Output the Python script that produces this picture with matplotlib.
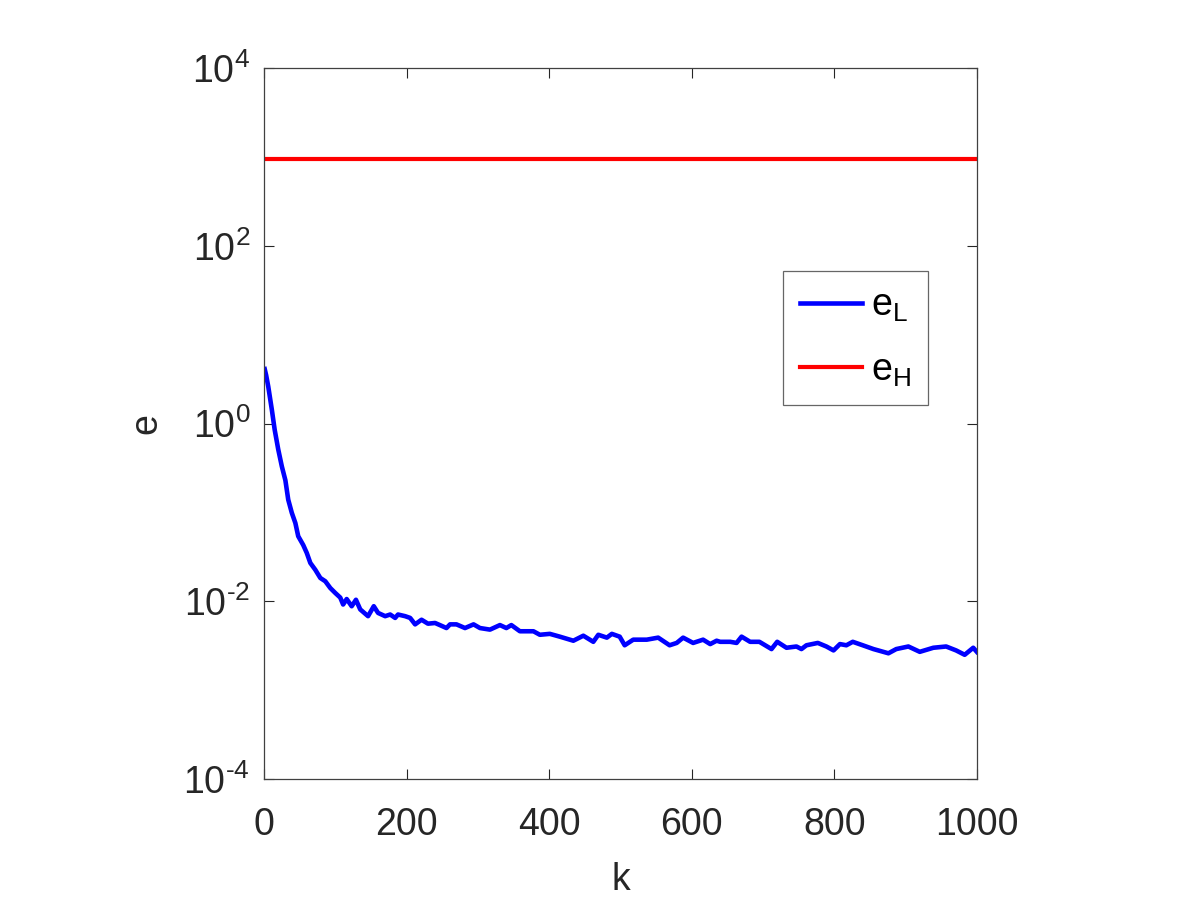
import matplotlib
matplotlib.use("Agg")
import matplotlib.pyplot as plt
import numpy as np

plt.rcParams['font.family'] = ['Liberation Sans', 'DejaVu Sans']
plt.rcParams['mathtext.fontset'] = 'custom'
plt.rcParams['mathtext.rm'] = 'Liberation Sans'
plt.rcParams['mathtext.it'] = 'Liberation Sans'

# iterations and error of the low-level estimate
k_L = [1, 3, 6, 11, 15, 20, 25, 30, 34, 39, 44, 48, 55, 60, 65, 72, 79, 86, 93, 100,
       107, 111, 116, 123, 129, 135, 146, 154, 160, 170, 177, 184, 188, 198, 205, 212,
       221, 230, 240, 249, 256, 261, 270, 282, 294, 303, 317, 331, 340, 347, 359, 378,
       387, 401, 415, 434, 448, 462, 469, 481, 488, 499, 506, 518, 537, 553, 569, 579,
       588, 602, 616, 626, 635, 640, 654, 663, 670, 682, 695, 712, 720, 733, 747, 754,
       761, 777, 789, 799, 808, 817, 826, 840, 855, 876, 887, 904, 920, 939, 957, 971,
       983, 995, 1000]
e_L = [4.1, 3.5, 2.6, 1.43, 0.85, 0.51, 0.33, 0.23, 0.139, 0.099, 0.076, 0.054, 0.043,
       0.035, 0.027, 0.0226, 0.0183, 0.0168, 0.0141, 0.0124,
       0.011, 0.0092, 0.0106, 0.0088, 0.0104, 0.0081, 0.0068, 0.0088, 0.0074, 0.0068,
       0.0071, 0.0065, 0.0071, 0.0068, 0.0065, 0.0055,
       0.0062, 0.0056, 0.0057, 0.0053, 0.0050, 0.0055, 0.0055, 0.0050, 0.0055, 0.0050,
       0.0048, 0.0054, 0.0050, 0.0054, 0.0046, 0.0046,
       0.0042, 0.0043, 0.0040, 0.0036, 0.0041, 0.0035, 0.0042, 0.0039, 0.0043, 0.0040,
       0.0032, 0.0037, 0.0037, 0.0039, 0.0032, 0.0034,
       0.0039, 0.0034, 0.0037, 0.0033, 0.0036, 0.0035, 0.0035, 0.0034, 0.0040, 0.0035,
       0.0035, 0.0029, 0.0035, 0.0030, 0.0031, 0.0029,
       0.0032, 0.0034, 0.0031, 0.0028, 0.0033, 0.0032, 0.0035, 0.0032, 0.0029, 0.0026,
       0.0029, 0.0031, 0.0027, 0.0030, 0.0031, 0.0028,
       0.0025, 0.0030, 0.0027]

# high-level error is flat
k_H = [1, 1000]
e_H = [940, 940]

y_ticks = [1e-4, 1e-2, 1e0, 1e2, 1e4]
y_tick_labels = ['$\\mathregular{10^{\\text{-}4}}$', '$\\mathregular{10^{\\text{-}2}}$',
                 '$\\mathregular{10^{0}}$', '$\\mathregular{10^{2}}$', '$\\mathregular{10^{4}}$']

dark = '#262626'
fig = plt.figure(figsize=(12, 9), dpi=100)
ax = fig.add_axes([0.22, 0.1344, 0.594, 0.79])

ax.semilogy(k_L, e_L, color='blue', lw=3.3, label='$\\mathregular{e_L}$')
ax.semilogy(k_H, e_H, color='red', lw=3, label='$\\mathregular{e_H}$')

ax.set_xlim(0, 1000)
ax.set_ylim(1e-4, 1e4)
ax.set_xticks([0, 200, 400, 600, 800, 1000])
ax.set_yticks(y_ticks)
ax.set_yticklabels(y_tick_labels)
ax.yaxis.set_minor_locator(matplotlib.ticker.NullLocator())
ax.tick_params(direction='in', length=7, width=0.8, colors=dark, labelsize=27,
               top=True, right=True)
ax.tick_params(axis='x', pad=20)
ax.tick_params(axis='y', pad=10)
for s in ax.spines.values():
    s.set_color('#404040')
    s.set_linewidth(0.9)

ax.set_xlabel('k', fontsize=27, color=dark, labelpad=14)
ax.set_ylabel('e', fontsize=27, color=dark, labelpad=14)

leg = ax.legend(loc='upper left', bbox_to_anchor=(783 / 1200, 1 - 271 / 900),
                bbox_transform=fig.transFigure, fontsize=27, fancybox=False,
                handlelength=1.65, labelspacing=0.75, borderaxespad=0,
                borderpad=0.45, handletextpad=0.25)
leg.get_frame().set_edgecolor('#404040')
leg.get_frame().set_linewidth(0.9)

fig.savefig('out.png', dpi=100)
